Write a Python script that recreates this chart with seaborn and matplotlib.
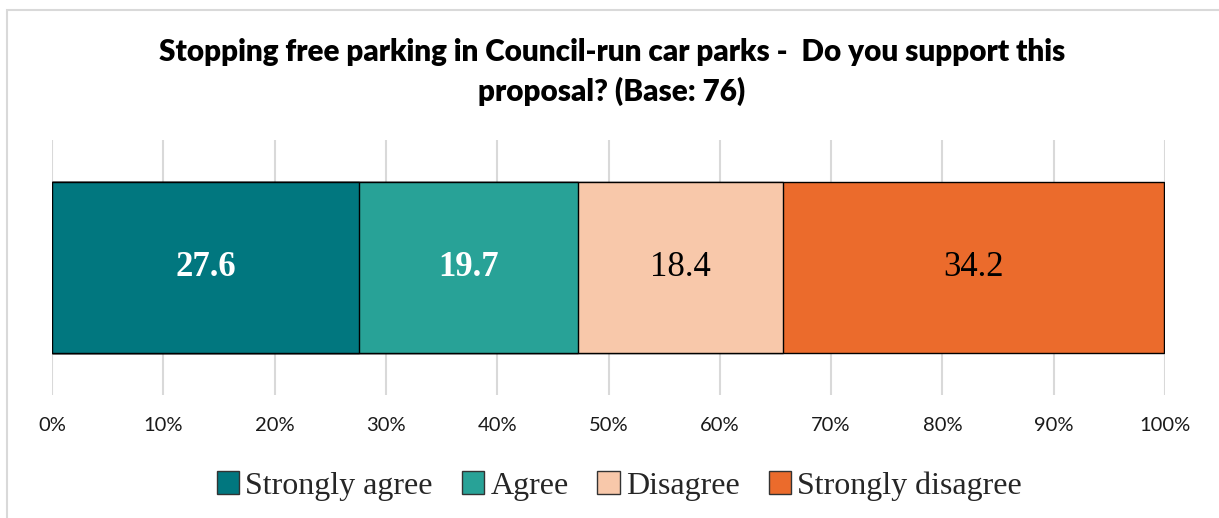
import matplotlib
matplotlib.use("Agg")
import matplotlib.pyplot as plt
import matplotlib.patches as mpatches
import seaborn as sns
import numpy as np
import pandas as pd

# data
categories = ["Strongly agree", "Agree", "Disagree", "Strongly disagree"]
values = [27.6, 19.7, 18.4, 34.2]
colors = ["#01777F", "#28A297", "#F8C8AA", "#EB6B2C"]
label_colors = ["white", "white", "black", "black"]
label_weights = ["bold", "bold", "normal", "normal"]
xticks = [0, 10, 20, 30, 40, 50, 60, 70, 80, 90, 100]
xtick_labels = ["0%", "10%", "20%", "30%", "40%", "50%", "60%", "70%", "80%", "90%", "100%"]
title = "Stopping free parking in Council-run car parks -  Do you support this\nproposal? (Base: 76)"

sns.set_theme(style="white")
plt.rcParams['font.family'] = ['Lato', 'DejaVu Sans']

fig = plt.figure(figsize=(12.19, 5.18), dpi=100)
ax = fig.add_axes([52 / 1219, 1 - 395 / 518, (1165 - 52) / 1219, 255 / 518])

# chart border (Excel-style frame, right/bottom run off the image)
fig.patches.append(mpatches.Rectangle((7 / 1219, -0.1), 1.1, 1 - 10 / 518 + 0.1,
                                      transform=fig.transFigure, fill=False,
                                      edgecolor="#D9D9D9", linewidth=1.5, zorder=0))

# stacked bar: draw cumulative totals from the largest down
cum = np.cumsum(values)
df = pd.DataFrame({"row": [""] * len(values), "cum": cum, "cat": categories})
for i in range(len(categories) - 1, -1, -1):
    sns.barplot(data=df.iloc[[i]], x="cum", y="row", orient="h", color=colors[i],
                edgecolor="black", linewidth=1, width=0.667, ax=ax, zorder=3,
                saturation=1)

starts = np.concatenate([[0], cum[:-1]])
for s, v, c, w in zip(starts, values, label_colors, label_weights):
    ax.text(s + v / 2, 0, f"{v:.1f}", ha="center", va="center", color=c,
            fontsize=25, fontweight=w, family="Liberation Serif", zorder=5)

ax.set_xlim(0, 100)
ax.set_ylim(0.5, -0.5)
ax.set_xticks(xticks)
ax.set_xticklabels(xtick_labels, fontsize=14.5, color="#1a1a1a")
ax.tick_params(axis="x", length=0, pad=16)
ax.set_yticks([])
ax.set_xlabel("")
ax.set_ylabel("")
ax.grid(axis="x", color="#D9D9D9", linewidth=1.5, zorder=0)
ax.set_axisbelow(True)
for sp in ax.spines.values():
    sp.set_visible(False)

fig.text(0.502, 1 - 72 / 518, title, ha="center", va="center", fontsize=21.3,
         fontweight="heavy", linespacing=1.45, color="black")

handles = [mpatches.Patch(facecolor=c, edgecolor="#333333", linewidth=1, label=l)
           for c, l in zip(colors, categories)]
fig.legend(handles=handles, loc="center", bbox_to_anchor=(0.508, 1 - 486 / 518),
           ncol=4, frameon=False, prop={"family": "Liberation Serif", "size": 23},
           handlelength=0.7, handleheight=0.7, handletextpad=0.2, columnspacing=0.9)

fig.savefig("out.png", dpi=100, facecolor="white")
